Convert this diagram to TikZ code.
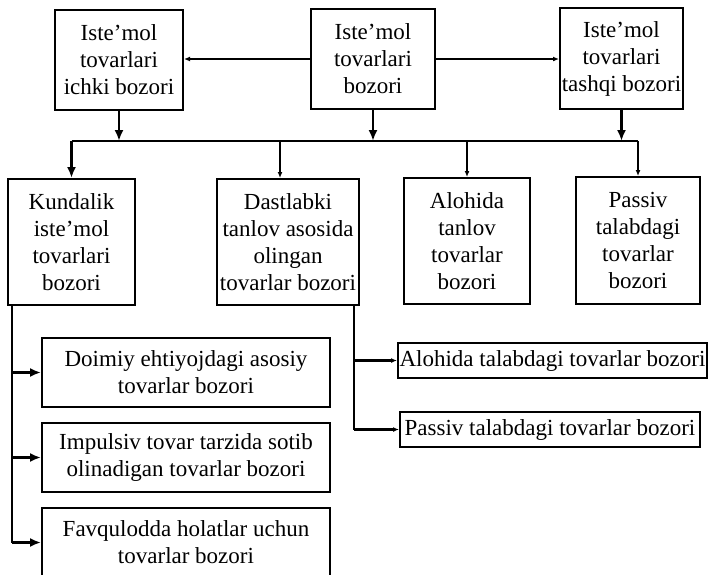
\documentclass[tikz,border=0pt]{standalone}
\usepackage{fontspec}
\setmainfont{Liberation Serif}
\usetikzlibrary{arrows.meta,calc}
\begin{document}
\begin{tikzpicture}[x=1pt,y=-1pt,
 box/.style={draw,line width=2pt,align=center,inner sep=0pt,font=\fontsize{23}{27}\selectfont},
 ln/.style={line width=2.2pt},
 bigarr/.style={ln,-{Latex[length=11pt,width=9pt]}},
 smallarr/.style={ln,-{Latex[length=6pt,width=5pt]}}]
\clip (0,0) rectangle (710,574);
\fill[white] (0,0) rectangle (710,574);
% top row
\node[box,minimum width=128pt,minimum height=100pt] (A) at (119,60) {Iste’mol\\tovarlari\\ichki bozori};
\node[box,minimum width=124pt,minimum height=100pt] (B) at (373,59) {Iste’mol\\tovarlari\\bozori};
\node[box,minimum width=123pt,minimum height=101pt] (C) at (621.5,58.5) {Iste’mol\\tovarlari\\tashqi bozori};
% second row
\node[box,minimum width=127pt,minimum height=126pt] (K) at (71.5,242) {Kundalik\\iste’mol\\tovarlari\\bozori};
\node[box,minimum width=142pt,minimum height=126pt] (D) at (288,242) {Dastlabki\\tanlov asosida\\olingan\\tovarlar bozori};
\node[box,minimum width=126pt,minimum height=126pt] (L) at (467,241) {Alohida\\tanlov\\tovarlar\\bozori};
\node[box,minimum width=124pt,minimum height=127pt] (P) at (638,240.5) {Passiv\\talabdagi\\tovarlar\\bozori};
% bottom left
\node[box,minimum width=288pt,minimum height=69pt] (b1) at (186,372.5) {Doimiy ehtiyojdagi asosiy\\tovarlar bozori};
\node[box,minimum width=288pt,minimum height=69pt] (b2) at (186,457.5) {Impulsiv tovar tarzida sotib\\olinadigan tovarlar bozori};
\node[box,minimum width=288pt,minimum height=69pt] (b3) at (186,542.5) {Favqulodda holatlar uchun\\tovarlar bozori};
% right
\node[box,minimum width=309pt,minimum height=35pt] (r1) at (552.5,360.5) {Alohida talabdagi tovarlar bozori};
\node[box,minimum width=300pt,minimum height=35pt] (r2) at (550,429.5) {Passiv talabdagi tovarlar bozori};
% connectors
\coordinate (bus) at (0,141);
\coordinate (dx) at (280,0);
\coordinate (lx) at (12,0);
\coordinate (rx) at (354,0);
\draw[smallarr] (B.west) -- (B.west -| A.east);
\draw[smallarr] (B.east) -- (B.east -| C.west);
\draw[bigarr] (A.south) -- (A.south |- bus);
\draw[bigarr] (B.south) -- (B.south |- bus);
\draw[bigarr] (C.south) -- (C.south |- bus);
\draw[ln] (K.north |- bus) -- (P.north |- bus);
\draw[bigarr] (K.north |- bus) -- (K.north);
\draw[smallarr] (dx |- bus) -- (dx |- D.north);
\draw[smallarr] (L.north |- bus) -- (L.north);
\draw[smallarr] (P.north |- bus) -- (P.north);
\draw[ln] (lx |- K.south) -- (lx |- b3.west);
\foreach \n in {b1,b2,b3} \draw[bigarr] (lx |- \n.west) -- (\n.west);
\draw[ln] (rx |- D.south) -- (rx |- r2.west);
\foreach \n in {r1,r2} \draw[smallarr] (rx |- \n.west) -- (\n.west);
\end{tikzpicture}
\end{document}
